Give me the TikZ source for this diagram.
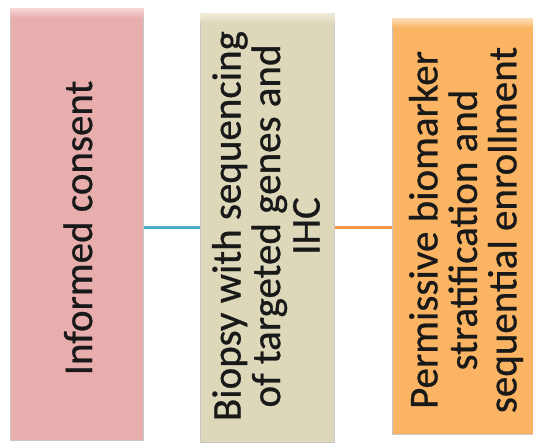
\documentclass[tikz,border=0pt]{standalone}
\usepackage{fontspec}
\setmainfont{Carlito}[FakeBold=0.7]
\usetikzlibrary{calc}
\definecolor{pinkbox}{HTML}{E8AEAD}
\definecolor{pinktop}{HTML}{F6D6D5}
\definecolor{tanbox}{HTML}{DDD8BA}
\definecolor{tantop}{HTML}{EEEBDA}
\definecolor{orangebox}{HTML}{FAB463}
\definecolor{orangetop}{HTML}{FDDDB5}
\definecolor{bluelink}{HTML}{4BACC6}
\definecolor{orangelink}{HTML}{F79646}
\tikzset{
  stagebox/.style={draw=black!22, line width=0.8pt, inner sep=0pt, anchor=north west},
  stagetext/.style={rotate=90, align=center, inner sep=0pt, text=black!90,
    font=\fontsize{41}{39.5}\selectfont},
  link/.style={line width=3pt}
}
\begin{document}
\begin{tikzpicture}[x=1pt,y=-1pt]
\useasboundingbox (0,0) rectangle (533,444);
% boxes
\node[stagebox, fill=pinkbox, minimum width=133pt, minimum height=432pt] (b1) at (10,8) {};
\node[stagebox, fill=tanbox, minimum width=134pt, minimum height=429pt] (b2) at (200,13) {};
\node[stagebox, fill=orangebox, minimum width=150pt, minimum height=416pt] (b3) at (392,18) {};
% top highlights
\shade[top color=pinktop, bottom color=pinkbox] ($(b1.north west)+(0.5,0.5)$) rectangle ($(b1.north east)+(-0.5,10)$);
\shade[top color=tantop, bottom color=tanbox] ($(b2.north west)+(0.5,0.5)$) rectangle ($(b2.north east)+(-0.5,10)$);
\shade[top color=orangetop, bottom color=orangebox] ($(b3.north west)+(0.5,0.5)$) rectangle ($(b3.north east)+(-0.5,10)$);
% texts
\node[stagetext] (t1) at (78,228) {Informed consent};
\node[stagetext] (t2) at (266,226) {Biopsy with sequencing\\of targeted genes and\\IHC};
\node[stagetext] (t3) at (466,230) {Permissive biomarker\\stratification and\\sequential enrollment};
% connectors
\draw[link, bluelink] (b1.east |- b2.center) -- (b2.west);
\draw[link, orangelink] (b2.east |- b2.center) -- (b3.west |- b2.center);
\end{tikzpicture}
\end{document}
